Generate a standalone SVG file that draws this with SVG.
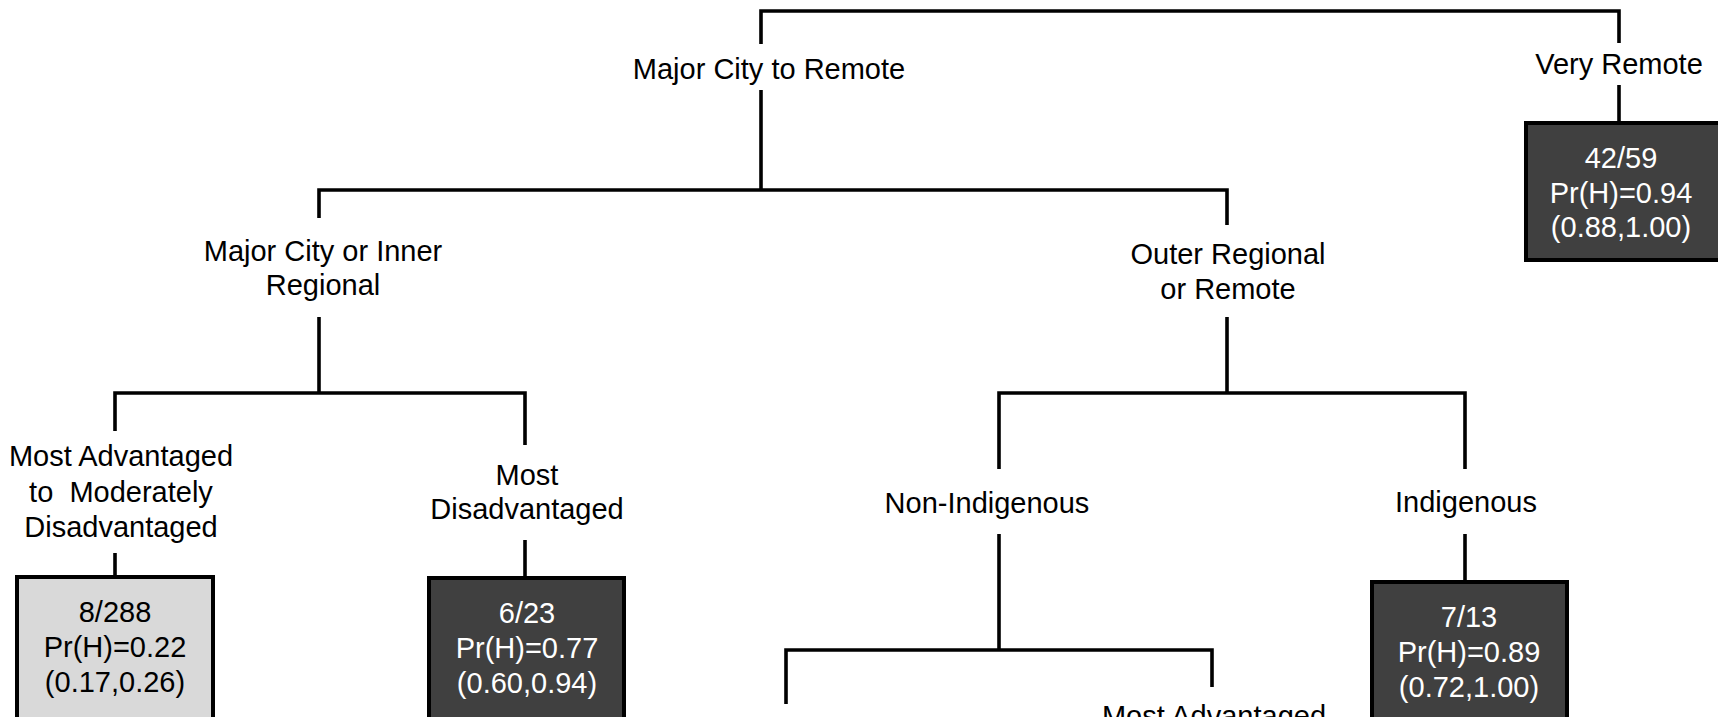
<svg xmlns="http://www.w3.org/2000/svg" width="1718" height="717" viewBox="0 0 1718 717">
<style>
.ln{fill:none;stroke:#000;stroke-width:3.6;stroke-linejoin:miter;stroke-linecap:butt}
.lb{font-family:"Liberation Sans",Arial,sans-serif;font-size:29px;fill:#000;text-anchor:middle;white-space:pre}
.bt{font-family:"Liberation Sans",Arial,sans-serif;font-size:29px;fill:#fff;text-anchor:middle}
.bd{fill:#404040;stroke:#000;stroke-width:4}
.bl{fill:#d9d9d9;stroke:#000;stroke-width:4}
.dt{font-family:"Liberation Sans",Arial,sans-serif;font-size:29px;fill:#000;text-anchor:middle}
</style>
<rect width="1718" height="717" fill="#fff"/>
<g id="connectors">
<path class="ln" d="M761,44 V11 H1619 V43"/>
<path class="ln" d="M761,90 V190"/>
<path class="ln" d="M1619,85 V123"/>
<path class="ln" d="M319,218 V190 H1227 V225"/>
<path class="ln" d="M319,317 V393"/>
<path class="ln" d="M1227,317 V393"/>
<path class="ln" d="M115,431 V393 H525 V445"/>
<path class="ln" d="M115,553 V577"/>
<path class="ln" d="M525,540 V578"/>
<path class="ln" d="M999,469 V393 H1465 V469"/>
<path class="ln" d="M999,534 V650"/>
<path class="ln" d="M1465,534 V582"/>
<path class="ln" d="M786,704 V650 H1212 V687"/>
</g>
<g id="n-major-city-to-remote"><text class="lb" x="769" y="79">Major City to Remote</text></g>
<g id="n-very-remote"><text class="lb" x="1619" y="74">Very Remote</text></g>
<g id="n-leaf-42-59">
<rect class="bd" x="1526" y="123" width="195" height="137"/>
<text class="bt" x="1621" y="168">42/59</text>
<text class="bt" x="1621" y="203">Pr(H)=0.94</text>
<text class="bt" x="1621" y="237">(0.88,1.00)</text>
</g>
<g id="n-major-city-inner"><text class="lb" x="323" y="261">Major City or Inner</text><text class="lb" x="323" y="295">Regional</text></g>
<g id="n-outer-regional"><text class="lb" x="1228" y="264">Outer Regional</text><text class="lb" x="1228" y="299">or Remote</text></g>
<g id="n-most-adv-mod"><text class="lb" x="121" y="466">Most Advantaged</text><text class="lb" x="121" y="502">to  Moderately</text><text class="lb" x="121" y="537">Disadvantaged</text></g>
<g id="n-most-disadv"><text class="lb" x="527" y="485">Most</text><text class="lb" x="527" y="519">Disadvantaged</text></g>
<g id="n-non-indigenous"><text class="lb" x="987" y="513">Non-Indigenous</text></g>
<g id="n-indigenous"><text class="lb" x="1466" y="512">Indigenous</text></g>
<g id="n-leaf-8-288">
<rect class="bl" x="17" y="577" width="196" height="160"/>
<text class="dt" x="115" y="622">8/288</text>
<text class="dt" x="115" y="657">Pr(H)=0.22</text>
<text class="dt" x="115" y="692">(0.17,0.26)</text>
</g>
<g id="n-leaf-6-23">
<rect class="bd" x="429" y="578" width="195" height="160"/>
<text class="bt" x="527" y="623">6/23</text>
<text class="bt" x="527" y="658">Pr(H)=0.77</text>
<text class="bt" x="527" y="693">(0.60,0.94)</text>
</g>
<g id="n-leaf-7-13">
<rect class="bd" x="1372" y="582" width="195" height="160"/>
<text class="bt" x="1469" y="627">7/13</text>
<text class="bt" x="1469" y="662">Pr(H)=0.89</text>
<text class="bt" x="1469" y="697">(0.72,1.00)</text>
</g>
<g id="n-most-advantaged-lower"><text class="lb" x="1214" y="726">Most Advantaged</text></g>
</svg>
